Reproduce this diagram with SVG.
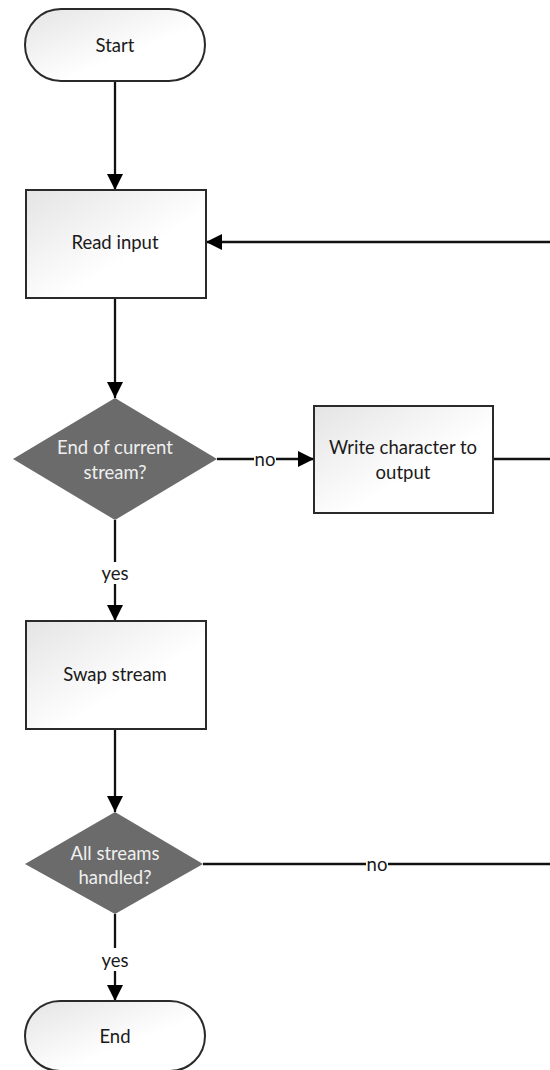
<svg xmlns="http://www.w3.org/2000/svg" width="550" height="1070" viewBox="0 0 550 1070">
  <style>
    .box { stroke: #2a2a2a; stroke-width: 2; fill: url(#boxFill); }
    .decision { fill: #6b6b6b; stroke: none; }
    .lbl { font-family: Lato, "Liberation Sans", sans-serif; font-size: 18.5px; fill: #1a1a1a; text-anchor: middle; dominant-baseline: central; }
    .lbl-light { fill: #efefef; }
    .edge { stroke: #111111; stroke-width: 2.3; fill: none; }
  </style>
  <defs>
    <linearGradient id="boxFill" x1="0" y1="0" x2="1" y2="1">
      <stop offset="0" stop-color="#e4e4e4"/>
      <stop offset="0.6" stop-color="#ffffff"/>
      <stop offset="1" stop-color="#ffffff"/>
    </linearGradient>
    <marker id="arrow" viewBox="0 0 16 16" refX="16" refY="8" markerWidth="16" markerHeight="16" markerUnits="userSpaceOnUse" orient="auto">
      <path d="M0,0 L16,8 L0,16 z" fill="#000"/>
    </marker>
  </defs>

  <rect width="550" height="1070" fill="#ffffff"/>

  <!-- connectors -->
  <g id="connectors">
    <line class="edge" x1="115" y1="81" x2="115" y2="190" marker-end="url(#arrow)"/>
    <line class="edge" x1="115" y1="298" x2="115" y2="398" marker-end="url(#arrow)"/>
    <!-- decision 1: no -->
    <line class="edge" x1="217" y1="459" x2="254" y2="459"/>
    <text class="lbl" x="265" y="459">no</text>
    <line class="edge" x1="276" y1="459" x2="314" y2="459" marker-end="url(#arrow)"/>
    <!-- write back to read input -->
    <line class="edge" x1="493" y1="459" x2="552" y2="459"/>
    <line class="edge" x1="552" y1="242" x2="206" y2="242" marker-end="url(#arrow)"/>
    <!-- decision 1: yes -->
    <line class="edge" x1="115" y1="520" x2="115" y2="562"/>
    <text class="lbl" x="115" y="573">yes</text>
    <line class="edge" x1="115" y1="584" x2="115" y2="621" marker-end="url(#arrow)"/>
    <line class="edge" x1="115" y1="729" x2="115" y2="812" marker-end="url(#arrow)"/>
    <!-- decision 2: no -->
    <line class="edge" x1="203" y1="864" x2="366" y2="864"/>
    <text class="lbl" x="377" y="864">no</text>
    <line class="edge" x1="388" y1="864" x2="552" y2="864"/>
    <!-- decision 2: yes -->
    <line class="edge" x1="115" y1="914" x2="115" y2="948"/>
    <text class="lbl" x="115" y="960">yes</text>
    <line class="edge" x1="115" y1="971" x2="115" y2="1001" marker-end="url(#arrow)"/>
  </g>

  <g id="start">
    <rect class="box" x="25" y="9" width="180" height="72" rx="36" ry="36"/>
    <text class="lbl" x="115" y="45">Start</text>
  </g>

  <g id="read-input">
    <rect class="box" x="26" y="190" width="180" height="108"/>
    <text class="lbl" x="115" y="242">Read input</text>
  </g>

  <g id="end-of-stream">
    <polygon class="decision" points="115,398 217,459 115,520 13,459"/>
    <text class="lbl lbl-light" x="115" y="447">End of current</text>
    <text class="lbl lbl-light" x="115" y="472">stream?</text>
  </g>

  <g id="write-char">
    <rect class="box" x="314" y="406" width="179" height="107"/>
    <text class="lbl" x="403" y="447">Write character to</text>
    <text class="lbl" x="403" y="472">output</text>
  </g>

  <g id="swap-stream">
    <rect class="box" x="26" y="621" width="180" height="108"/>
    <text class="lbl" x="115" y="674">Swap stream</text>
  </g>

  <g id="all-handled">
    <polygon class="decision" points="115,812 203,864 115,914 25,864"/>
    <text class="lbl lbl-light" x="115" y="853">All streams</text>
    <text class="lbl lbl-light" x="115" y="877">handled?</text>
  </g>

  <g id="end">
    <rect class="box" x="25" y="1001" width="180" height="70" rx="35" ry="35"/>
    <text class="lbl" x="115" y="1036">End</text>
  </g>
</svg>
